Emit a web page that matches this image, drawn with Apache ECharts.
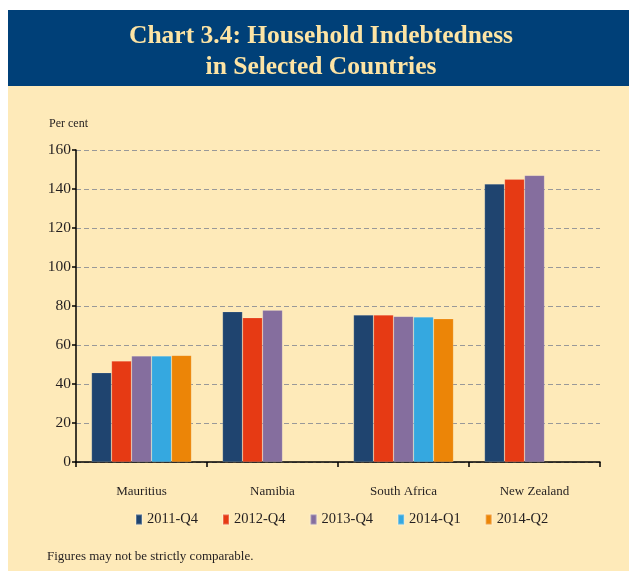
<!DOCTYPE html>
<html>
<head>
<meta charset="utf-8">
<script src="https://cdn.jsdelivr.net/npm/echarts@6/dist/echarts.min.js"></script>
<style>
  html, body { margin: 0; padding: 0; background: #ffffff; }
  #main { width: 629px; height: 571px; }
</style>
</head>
<body>
<div id="main"></div>
<script>
var chartDom = document.getElementById('main');
var myChart = echarts.init(chartDom);

// data
const countries = ['Mauritius', 'Namibia', 'South Africa', 'New Zealand'];
const periods = ['2011-Q4', '2012-Q4', '2013-Q4', '2014-Q1', '2014-Q2'];
const q4_2011 = [45.8, 77.1, 75.4, 142.6];
const q4_2012 = [51.8, 74.0, 75.4, 145.0];
const q4_2013 = [54.4, 77.9, 74.7, 147.0];
const q1_2014 = [54.4, null, 74.4, null];
const q2_2014 = [54.7, null, 73.5, null];
const yTicks = [0, 20, 40, 60, 80, 100, 120, 140, 160];

const colors = ['#1f446f', '#e63a14', '#856e9e', '#35a8e0', '#ec8507'];
const serif = '"Liberation Serif", "Times New Roman", serif';

const seriesData = [q4_2011, q4_2012, q4_2013, q1_2014, q2_2014];

var option = {
  backgroundColor: '#ffffff',
  animation: false,
  color: colors,
  graphic: [
    { type: 'rect', z: -10, shape: { x: 8, y: 86, width: 621, height: 485 }, style: { fill: '#feeab9' } },
    { type: 'rect', z: -10, shape: { x: 8, y: 10, width: 621, height: 76 }, style: { fill: '#004078' } },
    {
      type: 'text', x: 321, y: 21,
      style: {
        text: 'Chart 3.4: Household Indebtedness\nin Selected Countries',
        fill: '#fde4a4', font: 'bold 25.5px ' + serif, lineHeight: 31, align: 'center'
      }
    },
    { type: 'text', left: 49, top: 118, style: { text: 'Per cent', fill: '#231f20', font: '12px ' + serif } },
    { type: 'text', left: 47, top: 550, style: { text: 'Figures may not be strictly comparable.', fill: '#231f20', font: '13px ' + serif } }
  ],
  legend: {
    data: periods,
    top: 507,
    left: 130,
    itemWidth: 6,
    itemHeight: 10,
    itemGap: 24,
    icon: 'rect',
    textStyle: { fontFamily: serif, fontSize: 14.5, color: '#231f20' }
  },
  grid: { left: 76, right: 29, top: 150, bottom: 109, containLabel: false },
  xAxis: {
    type: 'category',
    data: countries,
    axisLine: { lineStyle: { color: '#000', width: 1.5 } },
    axisTick: { show: true, length: 5, lineStyle: { color: '#000', width: 1.5 } },
    axisLabel: { margin: 23, fontFamily: serif, fontSize: 13, color: '#231f20' }
  },
  yAxis: {
    type: 'value',
    min: yTicks[0],
    max: yTicks[yTicks.length - 1],
    interval: 20,
    axisLine: { show: true, lineStyle: { color: '#000', width: 1.5 } },
    axisTick: { show: true, length: 4, lineStyle: { color: '#000', width: 1.5 } },
    axisLabel: { margin: 5, fontFamily: serif, fontSize: 15.5, color: '#231f20' },
    splitLine: { lineStyle: { color: '#999999', type: [5, 3], width: 1.2 } }
  },
  series: periods.map((p, i) => ({
    name: p,
    type: 'bar',
    data: seriesData[i],
    barWidth: 20,
    barGap: '0%',
    itemStyle: { color: colors[i], borderColor: 'rgba(255,255,255,0.25)', borderWidth: 0.6 }
  }))
};

option && myChart.setOption(option);
</script>
</body>
</html>
